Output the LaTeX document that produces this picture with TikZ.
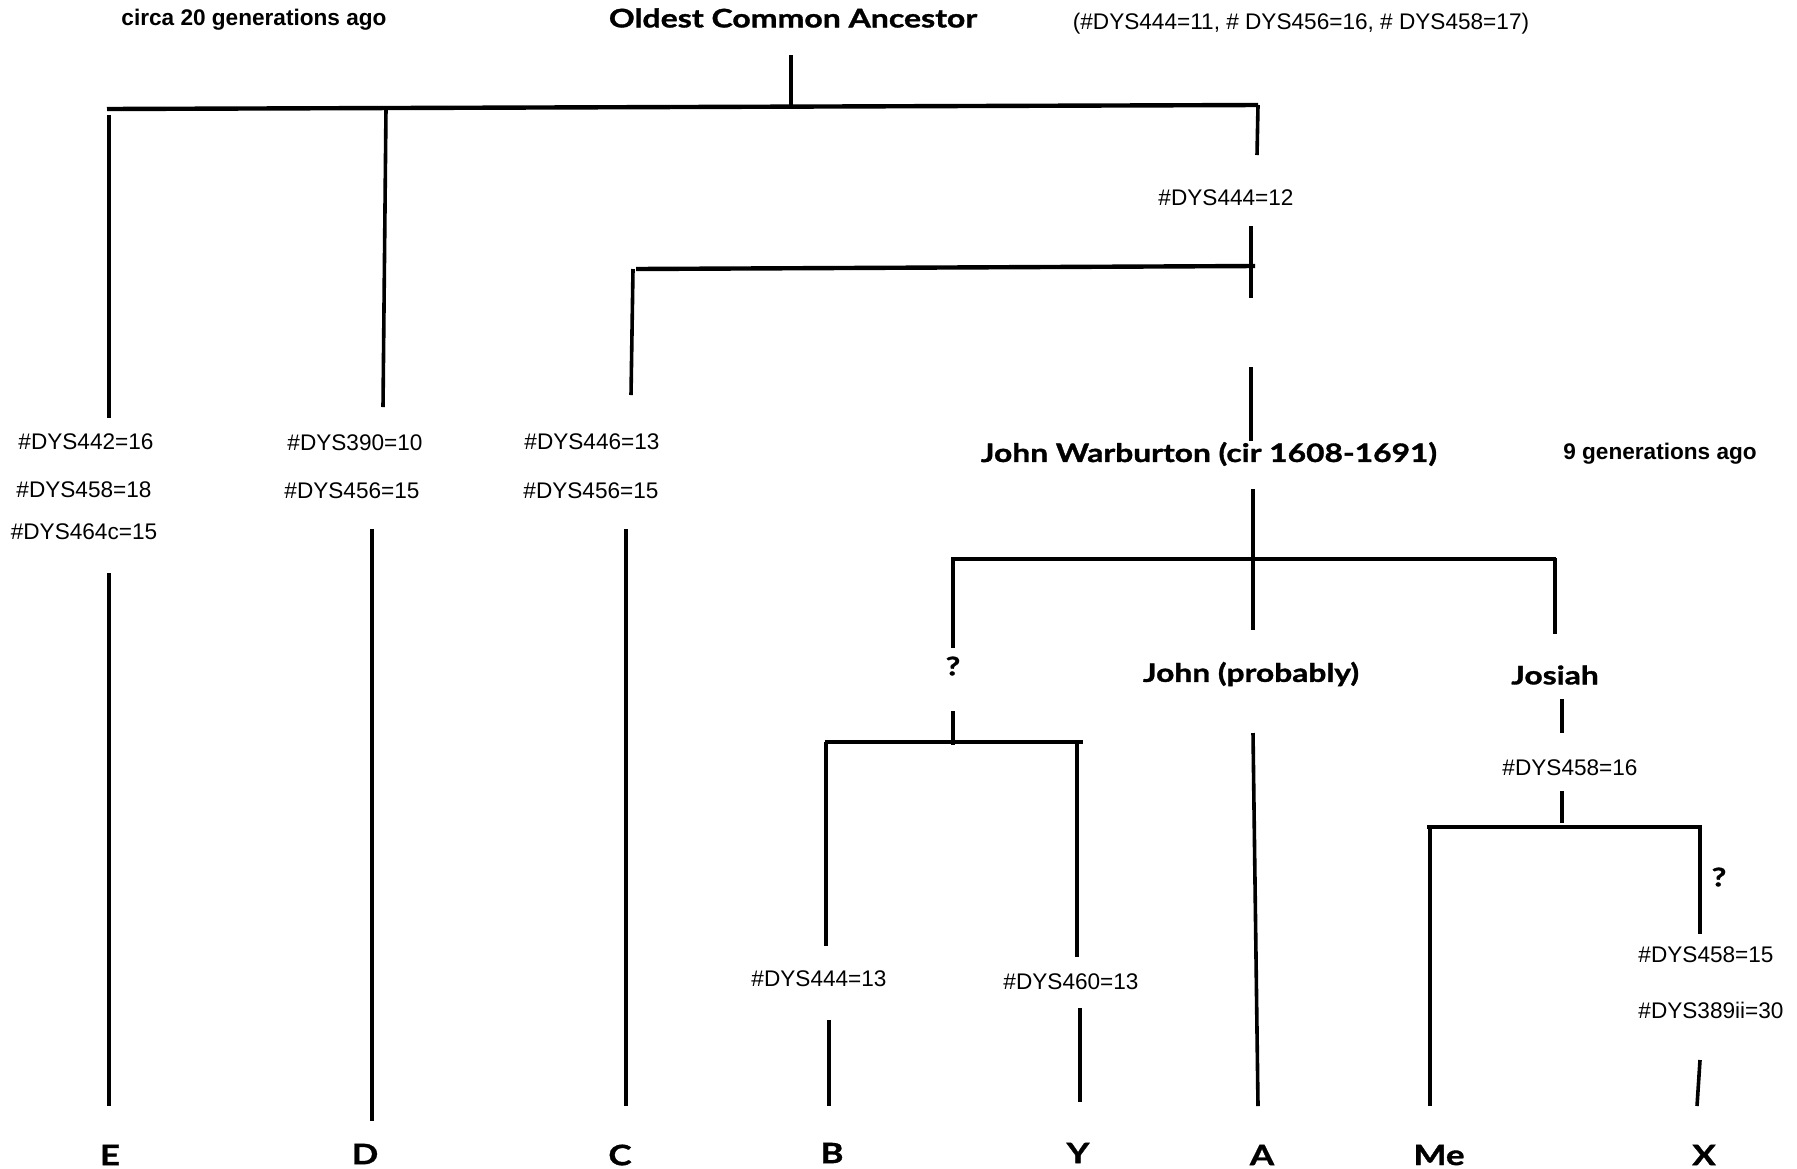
\documentclass[tikz,border=0pt]{standalone}
\usepackage{fontspec}
\setmainfont{Liberation Sans}
\newfontfamily\gillb{Lato}[FakeStretch=1.25,BoldFeatures={FakeBold=1.3}]
\begin{document}
\begin{tikzpicture}[x=0.5pt,y=-0.5pt,
  ln/.style={line width=1.8pt},
  hz/.style={line width=2.2pt},
  dyslbl/.style={inner sep=0pt,font=\fontsize{11.3}{13}\selectfont},
  notelbl/.style={inner sep=0pt,font=\bfseries\fontsize{11.3}{13}\selectfont},
  personlbl/.style={inner sep=0pt,font=\gillb\bfseries\fontsize{12.7}{15}\selectfont},
  leaflbl/.style={inner sep=0pt,font=\gillb\bfseries\fontsize{14}{16}\selectfont}]
\useasboundingbox (0,0) rectangle (1797,1168);
% texts
\node[notelbl] (circa) at (254,20) {circa 20 generations ago};
\node[inner sep=0pt,font=\gillb\bfseries\fontsize{12.8}{15}\selectfont] (oca) at (793,18) {Oldest Common Ancestor};
\node[dyslbl] (ocadys) at (1301,24) {(\#DYS444=11, \# DYS456=16, \# DYS458=17)};
\node[dyslbl] (d12) at (1226,198) {\#DYS444=12};
\node[dyslbl] (e1) at (86,442) {\#DYS442=16};
\node[dyslbl] (e2) at (84,490) {\#DYS458=18};
\node[dyslbl] (e3) at (84,532) {\#DYS464c=15};
\node[dyslbl] (d1) at (355,443) {\#DYS390=10};
\node[dyslbl] (d2) at (352,491) {\#DYS456=15};
\node[dyslbl] (c1) at (592,442) {\#DYS446=13};
\node[dyslbl] (c2) at (591,491) {\#DYS456=15};
\node[personlbl] (jw) at (1209,454) {John Warburton (cir 1608-1691)};
\node[notelbl] (nine) at (1660,454) {9 generations ago};
\node[personlbl] (q1) at (953,666) {?};
\node[personlbl] (john) at (1251,674) {John (probably)};
\node[personlbl] (josiah) at (1555,675) {Josiah};
\node[dyslbl] (j16) at (1570,768) {\#DYS458=16};
\node[personlbl] (q2) at (1719,877) {?};
\node[dyslbl] (b13) at (819,979) {\#DYS444=13};
\node[dyslbl] (y13) at (1071,982) {\#DYS460=13};
\node[dyslbl] (x1) at (1706,955) {\#DYS458=15};
\node[dyslbl] (x2) at (1711,1010) {\#DYS389ii=30};
\node[leaflbl] (E) at (110,1155) {E};
\node[leaflbl] (D) at (365,1154) {D};
\node[leaflbl] (C) at (620,1155) {C};
\node[leaflbl] (B) at (832,1153) {B};
\node[leaflbl] (Y) at (1078,1153) {Y};
\node[leaflbl] (A) at (1262,1155) {A};
\node[leaflbl] (Me) at (1439,1155) {Me};
\node[leaflbl] (X) at (1704,1155) {X};
% coordinates
\coordinate (r0) at (791,55);
\coordinate (r1) at (791,108);
\coordinate (hL) at (107,109);
\coordinate (hR) at (1258,105);
\coordinate (k1) at (1257,155);
\coordinate (eT) at (109,115);
\coordinate (eB) at (109,418);
\coordinate (dT) at (386,108);
\coordinate (dB) at (383,407);
\coordinate (s1) at (1251,226);
\coordinate (s2) at (1251,298);
\coordinate (h2L) at (636,269);
\coordinate (h2R) at (1255,266);
\coordinate (cT) at (633,269);
\coordinate (cB) at (631,395);
\coordinate (s3) at (1251,367);
\coordinate (s4) at (1251,441);
\coordinate (w1) at (1253,489);
\coordinate (w2) at (1253,630);
\coordinate (h3L) at (951,559);
\coordinate (h3R) at (1556,559);
\coordinate (qT) at (953,560);
\coordinate (qB) at (953,648);
\coordinate (jT) at (1555,558);
\coordinate (jB) at (1555,634);
\coordinate (q1a) at (953,711);
\coordinate (q1b) at (953,745);
\coordinate (h4L) at (825,742);
\coordinate (h4R) at (1083,742);
\coordinate (bT) at (826,742);
\coordinate (bB) at (826,946);
\coordinate (yT) at (1077,742);
\coordinate (yB) at (1077,957);
\coordinate (bL1) at (829,1020);
\coordinate (bL2) at (829,1106);
\coordinate (yL1) at (1080,1008);
\coordinate (yL2) at (1080,1102);
\coordinate (aT) at (1253,733);
\coordinate (aB) at (1258,1106);
\coordinate (js1) at (1562,699);
\coordinate (js2) at (1562,733);
\coordinate (js3) at (1562,791);
\coordinate (js4) at (1562,823);
\coordinate (h5L) at (1427,827);
\coordinate (h5R) at (1702,827);
\coordinate (meT) at (1430,826);
\coordinate (meB) at (1430,1106);
\coordinate (xT) at (1700,826);
\coordinate (xB) at (1700,934);
\coordinate (xL1) at (1700,1060);
\coordinate (xL2) at (1697,1106);
\coordinate (eL1) at (109,573);
\coordinate (eL2) at (109,1106);
\coordinate (dL1) at (372,529);
\coordinate (dL2) at (372,1121);
\coordinate (cL1) at (626,529);
\coordinate (cL2) at (626,1106);
% connectors
\draw[ln] (r0) -- (r1);
\draw[hz] (hL) -- (hR);
\draw[ln] (hR) -- (k1);
\draw[ln] (eT) -- (eB);
\draw[ln] (dT) -- (dB);
\draw[ln] (s1) -- (s2);
\draw[hz] (h2L) -- (h2R);
\draw[ln] (cT) -- (cB);
\draw[ln] (s3) -- (s4);
\draw[ln] (w1) -- (w2);
\draw[hz] (h3L) -- (h3R);
\draw[ln] (qT) -- (qB);
\draw[ln] (jT) -- (jB);
\draw[ln] (q1a) -- (q1b);
\draw[hz] (h4L) -- (h4R);
\draw[ln] (bT) -- (bB);
\draw[ln] (yT) -- (yB);
\draw[ln] (bL1) -- (bL2);
\draw[ln] (yL1) -- (yL2);
\draw[ln] (aT) -- (aB);
\draw[ln] (js1) -- (js2);
\draw[ln] (js3) -- (js4);
\draw[hz] (h5L) -- (h5R);
\draw[ln] (meT) -- (meB);
\draw[ln] (xT) -- (xB);
\draw[ln] (xL1) -- (xL2);
\draw[ln] (eL1) -- (eL2);
\draw[ln] (dL1) -- (dL2);
\draw[ln] (cL1) -- (cL2);
\end{tikzpicture}
\end{document}
